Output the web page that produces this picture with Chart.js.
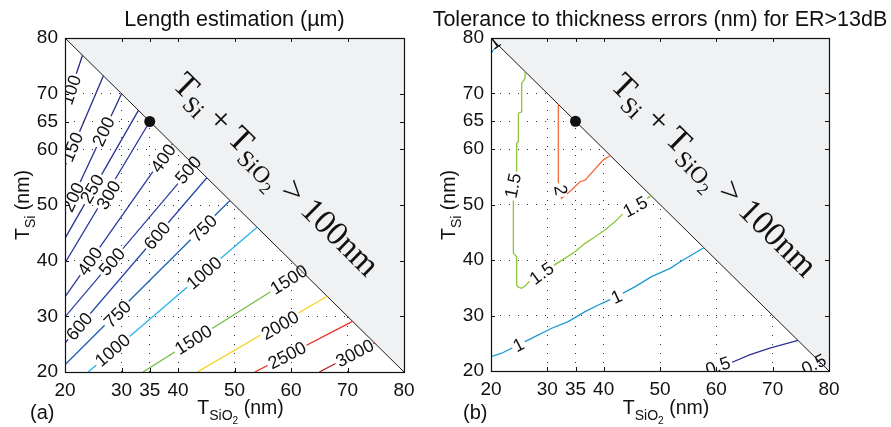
<!DOCTYPE html>
<html>
<head>
<meta charset="utf-8">
<script src="https://cdn.jsdelivr.net/npm/chart.js@4.4.0/dist/chart.umd.min.js"></script>
<style>
  body { margin: 0; background: #fff; width: 891px; height: 427px; overflow: hidden; position: relative; }
  canvas { position: absolute; top: 0; }
  #chartA { left: 0; }
  #chartB { left: 426px; }
</style>
</head>
<body>
<canvas id="chartA" width="445" height="427"></canvas>
<canvas id="chartB" width="465" height="427"></canvas>
<script>
// Axes
const xTicks = [20, 30, 35, 40, 50, 60, 70, 80];
const yTicks = [20, 30, 40, 50, 60, 65, 70, 80];
const designPoint = [{ x: 35, y: 65 }];
const limitLine = [{ x: 20, y: 80 }, { x: 80, y: 20 }];

// (a) Length estimation (um): one polyline per contour level
const levelsA = [100, 150, 200, 250, 300, 400, 500, 600, 750, 1000, 1500, 2000, 2500, 3000];
const colorsA = ['#25277f', '#272b89', '#282e90', '#293196', '#2a349b', '#2a38a0', '#2a3da5', '#2745a9', '#1f62b1',
                 '#27b4e8', '#72bd46', '#f7d117', '#ec3326', '#b7282e'];
const linesA = [
  [[20, 67.5], [23.1, 76.9]],
  [[20, 57], [26.8, 73.2]],
  [[20, 48.3], [30, 70]],
  [[20, 44], [33, 67]],
  [[20, 39.6], [35, 65]],
  [[20, 33.5], [39, 61]],
  [[20, 29.9], [42.8, 57.2]],
  [[20, 25.2], [45.1, 54.9]],
  [[20, 21.3], [49.2, 50.8]],
  [[24.1, 20], [54, 46]],
  [[33.8, 20], [62, 38]],
  [[43.4, 20], [66.4, 33.6]],
  [[53.6, 20], [70.9, 29.1]],
  [[65, 20], [74.8, 25.2]]
];
// [contour index, x, y] of each inline label
const labelsA = [
  [0, 21.05, 70.7], [1, 21.3, 60.4], [2, 21.4, 51.4], [2, 26.8, 63.2], [3, 24.8, 52.9], [4, 27.7, 51.8],
  [5, 24.4, 39.9], [5, 37.4, 58.4], [6, 28.3, 39.8], [6, 41.8, 56.3], [7, 22.5, 28.2], [7, 36.3, 44.5],
  [8, 29.3, 30.4], [8, 44.5, 45.8], [9, 28.4, 23.9], [9, 44.6, 37.8], [10, 42.7, 25.8], [10, 59.6, 36.6],
  [11, 58.05, 28.4], [12, 59.3, 23.0], [13, 71.3, 23.4]
];

// (b) Tolerance to thickness errors (nm)
const levelsB = [1, 1.5, 2, 1, 0.5, 0.5];
const colorsB = ['#1b9ad6', '#8dc63f', '#f26b3a', '#1b9ad6', '#2e3192', '#2e3192'];
const linesB = [
  [[20, 77.2], [20.6, 78.2], [21.3, 78.7]],
  [[26.04, 74.0], [26.04, 72.7], [25.45, 71.8], [25.45, 66.7], [24.86, 66.4], [24.86, 61.3], [24.56, 61.0],
   [24.56, 54.1], [23.97, 51.1], [23.97, 41.2], [24.56, 40.6], [24.56, 35.5], [24.86, 35.1], [25.45, 34.9],
   [26.04, 35.3], [26.6, 35.9], [29.3, 37.9], [30.8, 38.8], [33.1, 40.3], [34.9, 41.5], [36.7, 43.0],
   [38.5, 44.2], [40.2, 45.4], [42.0, 46.9], [43.2, 48.1], [45.6, 49.4], [48.4, 51.6]],
  [[31.95, 68.05], [31.95, 54.1], [32.5, 51.1], [34.3, 52.6], [35.8, 54.1], [36.7, 54.4], [39.9, 58.0],
   [40.8, 58.6], [41.2, 58.8]],
  [[20, 22.6], [21.9, 23.2], [24.9, 24.7], [27.8, 26.2], [30.8, 27.7], [33.7, 28.9], [36.7, 30.7], [39.7, 32.2],
   [42.3, 33.4], [45.6, 35.2], [48.5, 37.0], [51.8, 38.5], [54.1, 40.0], [57.8, 42.2]],
  [[58.9, 20], [60.1, 20.6], [62.4, 21.4], [65.9, 22.9], [69.5, 24.1], [74.5, 25.5]],
  [[75.2, 20], [76.1, 20.5], [77.5, 21.2], [78.6, 21.4]]
];
const labelsB = [
  [0, 20.6, 79.2], [1, 23.9, 53.4], [1, 29.0, 37.6], [1, 45.6, 49.6], [2, 32.4, 52.6],
  [3, 24.9, 24.7], [3, 42.3, 33.4], [4, 60.3, 20.9], [5, 77.3, 21.2]
];

const sans = '"Liberation Sans", Arial, sans-serif';
const serif = '"Liberation Serif", "Times New Roman", serif';

// draws pieces of text (with subscript sizes) centred on cx,cy
function drawRuns(ctx, runs, cx, cy, angle, size, family) {
  ctx.save();
  ctx.translate(cx, cy);
  ctx.rotate(angle);
  ctx.textBaseline = 'alphabetic';
  ctx.textAlign = 'left';
  let total = 0;
  runs.forEach(r => { ctx.font = `${size * r[1]}px ${family}`; total += ctx.measureText(r[0]).width; });
  let x = -total / 2;
  runs.forEach(r => {
    ctx.font = `${size * r[1]}px ${family}`;
    ctx.fillText(r[0], x, size * 0.36 + r[2] * size);
    x += ctx.measureText(r[0]).width;
  });
  ctx.restore();
}

function labelAngle(xs, ys, pts, x, y) {
  let best = 1e9, ang = 0;
  for (let i = 0; i < pts.length - 1; i++) {
    const mx = (pts[i][0] + pts[i + 1][0]) / 2, my = (pts[i][1] + pts[i + 1][1]) / 2;
    const d = (mx - x) ** 2 + (my - y) ** 2;
    if (d < best) {
      best = d;
      ang = Math.atan2(ys.getPixelForValue(pts[i + 1][1]) - ys.getPixelForValue(pts[i][1]),
                       xs.getPixelForValue(pts[i + 1][0]) - xs.getPixelForValue(pts[i][0]));
    }
  }
  if (ang >= Math.PI / 2 - 1e-6) ang -= Math.PI;
  if (ang < -Math.PI / 2 - 1e-6) ang += Math.PI;
  return ang;
}

function panelPlugin(cfg) {
  return {
    id: 'panel' + cfg.tag,
    afterDatasetsDraw(chart) {
      const ctx = chart.ctx, a = chart.chartArea;
      const xs = chart.scales.x, ys = chart.scales.y;
      // contour labels, with a gap cut in the line below them
      cfg.labels.forEach(l => {
        const px = xs.getPixelForValue(l[1]), py = ys.getPixelForValue(l[2]);
        const ang = labelAngle(xs, ys, cfg.lines[l[0]], l[1], l[2]);
        const text = String(cfg.levels[l[0]]);
        ctx.save();
        ctx.font = `18px ${sans}`;
        const w = ctx.measureText(text).width;
        ctx.save();
        ctx.beginPath();
        ctx.moveTo(xs.getPixelForValue(20), ys.getPixelForValue(80) + 2);
        ctx.lineTo(xs.getPixelForValue(80) - 2, ys.getPixelForValue(20));
        ctx.lineTo(xs.getPixelForValue(20), ys.getPixelForValue(20));
        ctx.closePath();
        ctx.clip();
        ctx.translate(px, py);
        ctx.rotate(ang);
        ctx.fillStyle = '#fff';
        ctx.fillRect(-w / 2 - 2, -5, w + 4, 10);
        ctx.restore();
        ctx.beginPath();
        ctx.rect(a.left, a.top, a.right - a.left, a.bottom - a.top);
        ctx.clip();
        ctx.translate(px, py);
        ctx.rotate(ang);
        ctx.fillStyle = '#111';
        ctx.textAlign = 'center';
        ctx.textBaseline = 'middle';
        ctx.fillText(text, 0, 1);
        ctx.restore();
      });
      // constraint text in the excluded region
      const ang = Math.atan2(ys.getPixelForValue(20) - ys.getPixelForValue(80),
                             xs.getPixelForValue(80) - xs.getPixelForValue(20));
      ctx.fillStyle = '#111';
      drawRuns(ctx, [['T', 1, 0], ['Si', 0.7, 0.22], [' + ', 1, 0], ['T', 1, 0], ['SiO', 0.7, 0.22],
                     ['2', 0.5, 0.38], [' > 100nm', 1, 0]],
               xs.getPixelForValue(cfg.textAt[0]), ys.getPixelForValue(cfg.textAt[1]), ang, 34, serif);
    },
    afterDraw(chart) {
      const ctx = chart.ctx, a = chart.chartArea;
      const xs = chart.scales.x, ys = chart.scales.y;
      ctx.save();
      ctx.strokeStyle = '#111';
      ctx.lineWidth = 1;
      ctx.beginPath();
      xTicks.forEach(v => {
        const p = Math.round(xs.getPixelForValue(v)) + 0.5;
        ctx.moveTo(p, a.bottom); ctx.lineTo(p, a.bottom - 4);
        ctx.moveTo(p, a.top); ctx.lineTo(p, a.top + 4);
      });
      yTicks.forEach(v => {
        const p = Math.round(ys.getPixelForValue(v)) + 0.5;
        ctx.moveTo(a.left, p); ctx.lineTo(a.left + 4, p);
        ctx.moveTo(a.right, p); ctx.lineTo(a.right - 4, p);
      });
      ctx.stroke();
      ctx.lineWidth = 1.2;
      ctx.strokeRect(Math.round(a.left) + 0.5, Math.round(a.top) + 0.5,
                     Math.round(a.right - a.left), Math.round(a.bottom - a.top));
      ctx.fillStyle = '#111';
      ctx.font = `21.5px ${sans}`;
      ctx.textAlign = 'center';
      ctx.textBaseline = 'alphabetic';
      const cx = (a.left + a.right) / 2;
      ctx.fillText(cfg.title, cx, 26);
      drawRuns(ctx, [['T', 1, 0], ['SiO', 0.72, 0.3], ['2', 0.52, 0.5], [' (nm)', 1, 0]], cx + 6, 407, 0, 19.5, sans);
      drawRuns(ctx, [['T', 1, 0], ['Si', 0.72, 0.3], [' (nm)', 1, 0]], 22, 205, -Math.PI / 2, 19.5, sans);
      ctx.font = `20px ${sans}`;
      ctx.textAlign = 'left';
      ctx.fillText(cfg.tag, 30 + cfg.tagShift, 419);
      ctx.restore();
    }
  };
}

function buildChart(id, cfg) {
  const datasets = [
    { data: designPoint, showLine: false, pointRadius: 5.5, pointBackgroundColor: '#111', pointBorderWidth: 0, order: 0 },
    ...cfg.lines.map((pts, i) => ({
      data: pts.map(p => ({ x: p[0], y: p[1] })),
      borderColor: cfg.colors[i], borderWidth: 1.3, pointRadius: 0, tension: 0, fill: false, order: 1
    })),
    { data: limitLine, fill: 'end', backgroundColor: '#f0f1f3', borderColor: '#1a1a1a', borderWidth: 1,
      pointRadius: 0, order: 2 }
  ];
  const tickFont = { family: sans, size: 19 };
  return new Chart(document.getElementById(id), {
    type: 'line',
    data: { datasets },
    options: {
      responsive: false,
      animation: false,
      events: [],
      layout: { padding: { left: 0, right: cfg.padRight, top: 38, bottom: 0 } },
      plugins: { legend: { display: false }, tooltip: { enabled: false } },
      scales: {
        x: {
          type: 'linear', min: 20, max: 80,
          afterBuildTicks: s => { s.ticks = xTicks.map(v => ({ value: v })); },
          afterFit: s => { s.height = cfg.xHeight; },
          grid: { color: '#333', lineWidth: 1, drawTicks: false },
          border: { display: false, dash: [1, 8] },
          ticks: { font: tickFont, color: '#111', padding: 7, maxRotation: 0, autoSkip: false }
        },
        y: {
          type: 'linear', min: 20, max: 80,
          afterBuildTicks: s => { s.ticks = yTicks.map(v => ({ value: v })); },
          afterFit: s => { s.width = 65; },
          grid: { color: '#333', lineWidth: 1, drawTicks: false },
          border: { display: false, dash: [1, 8] },
          ticks: { font: tickFont, color: '#111', padding: 7, autoSkip: false }
        }
      }
    },
    plugins: [panelPlugin(cfg)]
  });
}

buildChart('chartA', {
  tag: '(a)', tagShift: 0, title: 'Length estimation (\u00b5m)', padRight: 41, xHeight: 55,
  levels: levelsA, colors: colorsA, lines: linesA, labels: labelsA, textAt: [57.6, 55.7]
});
buildChart('chartB', {
  tag: '(b)', tagShift: 7, title: 'Tolerance to thickness errors (nm) for ER>13dB', padRight: 62, xHeight: 56,
  levels: levelsB, colors: colorsB, lines: linesB, labels: labelsB, textAt: [59.8, 55.5]
});
</script>
</body>
</html>
